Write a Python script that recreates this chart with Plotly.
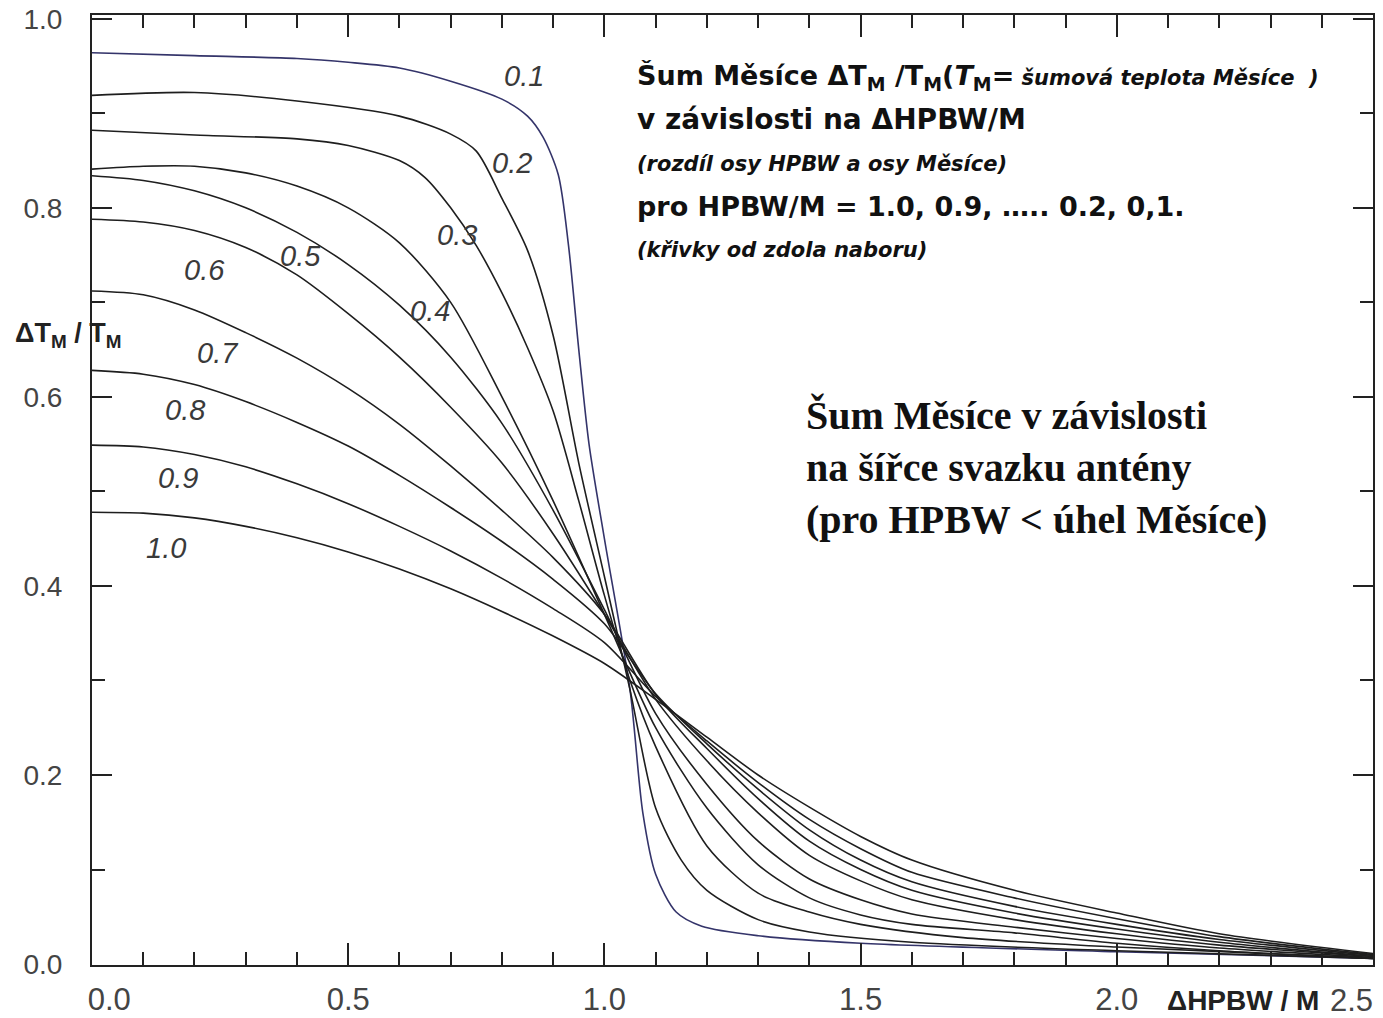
import plotly.graph_objects as go

# ---------------- data ----------------
hpbw_labels = ["0.1", "0.2", "0.3", "0.4", "0.5", "0.6", "0.7", "0.8", "0.9", "1.0"]

x_01 = [0, 0.2, 0.4, 0.5, 0.6, 0.7, 0.8, 0.85, 0.88, 0.91, 0.93, 0.95, 0.97, 1.0, 1.05, 1.075, 1.1, 1.14, 1.19, 1.3, 1.5, 2.0, 2.5]
y_01 = [.964, .961, .958, .954, .948, .934, .915, .897, .875, .835, .76, .65, .55, .45, .29, .16, .095, .055, .04, .03, .022, .013, .006]

x_02 = [0, 0.2, 0.4, 0.6, 0.7, 0.75, 0.8, 0.85, 0.9, 0.95, 1.0, 1.05, 1.1, 1.15, 1.2, 1.3, 1.4, 1.6, 2.0, 2.5]
y_02 = [.919, .922, .913, .897, .878, .86, .81, .755, .665, .53, .41, .29, .165, .11, .078, .047, .034, .023, .014, .006]

x_03 = [0, .2, .4, .5, .6, .65, .7, .75, .8, .85, .9, .95, 1.0, 1.05, 1.1, 1.2, 1.3, 1.4, 1.5, 1.7, 2.0, 2.5]
y_03 = [.882, .877, .873, .866, .85, .832, .80, .76, .71, .652, .585, .49, .39, .30, .23, .125, .075, .055, .042, .028, .018, .006]

x_grid = [0, .1, .2, .3, .4, .5, .6, .7, .8, .9, 1.0, 1.1, 1.2, 1.3, 1.4, 1.5, 1.6, 1.8, 2.0, 2.2, 2.5]
y_04 = [.841, .844, .844, .837, .823, .80, .763, .70, .60, .49, .37, .25, .165, .105, .07, .052, .042, .033, .022, .014, .006]
y_05 = [.834, .829, .818, .80, .774, .74, .697, .642, .572, .48, .375, .265, .19, .13, .09, .068, .053, .039, .027, .017, .007]
y_06 = [.788, .785, .776, .758, .729, .688, .642, .589, .53, .455, .37, .28, .215, .16, .115, .088, .068, .047, .032, .02, .008]
y_07 = [.712, .708, .692, .668, .641, .609, .571, .527, .48, .43, .37, .285, .228, .175, .13, .1, .078, .054, .037, .023, .008]
y_08 = [.628, .624, .613, .595, .573, .548, .517, .483, .447, .407, .36, .286, .233, .185, .142, .11, .087, .061, .042, .026, .009]
y_09 = [.549, .547, .539, .526, .508, .487, .463, .437, .408, .376, .34, .283, .236, .192, .153, .122, .097, .07, .048, .029, .01]
y_10 = [.478, .477, .472, .463, .451, .436, .418, .397, .373, .347, .318, .28, .24, .20, .166, .135, .11, .078, .054, .032, .011]

curves = [
    (x_01, y_01), (x_02, y_02), (x_03, y_03),
    (x_grid, y_04), (x_grid, y_05), (x_grid, y_06), (x_grid, y_07),
    (x_grid, y_08), (x_grid, y_09), (x_grid, y_10),
]

x_tick_vals = [0, 0.5, 1.0, 1.5, 2.0]
x_tick_text = ["\u00a0\u00a0\u00a0\u00a00.0", "0.5", "1.0", "1.5", "2.0"]
x_last_tick = [2.5]
x_last_text = ["2.5"]
y_tick_vals = [0.0, 0.2, 0.4, 0.6, 0.8, 1.0]
y_tick_text = ["0.0", "0.2", "0.4", "0.6", "0.8", "1.0"]

# curve label positions (data coords)
label_pos = {
    "0.1": (0.844, 0.94), "0.2": (0.819, 0.847), "0.3": (0.712, 0.771),
    "0.4": (0.659, 0.691), "0.5": (0.406, 0.749), "0.6": (0.22, 0.734),
    "0.7": (0.246, 0.646), "0.8": (0.181, 0.586), "0.9": (0.168, 0.514),
    "1.0": (0.144, 0.44),
}

# ---------------- figure ----------------
fig = go.Figure()
for i, (xs, ys) in enumerate(curves):
    fig.add_trace(go.Scatter(
        x=xs, y=ys, mode="lines",
        line=dict(color="#34346a" if i == 0 else "#1e1e1e", width=1.6,
                  shape="spline", smoothing=0.8),
        name=hpbw_labels[i], showlegend=False, hoverinfo="skip",
    ))
# empty helper trace so the second x axis (carrying the "2.5" label) is drawn
fig.add_trace(go.Scatter(x=[], y=[], xaxis="x2", yaxis="y", showlegend=False, hoverinfo="skip"))

ann = []
for lab in hpbw_labels:
    lx, ly = label_pos[lab]
    ann.append(dict(x=lx, y=ly, xref="x", yref="y", text="<i>%s</i>" % lab,
                    showarrow=False, font=dict(family="Liberation Sans, Arial", size=29, color="#3a3a3a")))

sans = "DejaVu Sans, Verdana, sans-serif"
top_lines = [
    ("<b>Šum Měsíce ΔT<sub>M</sub> /T<sub>M</sub>(<i>T</i><sub>M</sub>=</b>"
     "<span style='font-size:21px'><b><i> šumová teplota Měsíce  )</i></b></span>", 0.9345, 27),
    ("<b>v závislosti na ΔHPBW/M</b>", 0.8895, 28),
    ("<b><i>(rozdíl osy HPBW a osy Měsíce)</i></b>", 0.8435, 21),
    ("<b>pro HPBW/M = 1.0, 0.9, ….. 0.2, 0,1.</b>", 0.798, 27),
    ("<b><i>(křivky od zdola naboru)</i></b>", 0.7525, 21),
]
for txt, yy, fs in top_lines:
    ann.append(dict(x=0.424, y=yy, xref="paper", yref="paper", xanchor="left", yanchor="middle",
                    text=txt, showarrow=False, font=dict(family=sans, size=fs, color="#111")))

serif = "Liberation Serif, Times New Roman, serif"
for txt, yy in [("<b>Šum Měsíce v závislosti</b>", 0.578),
                ("<b>na šířce svazku antény</b>", 0.524),
                ("<b>(pro HPBW &lt; úhel Měsíce)</b>", 0.469)]:
    ann.append(dict(x=0.556, y=yy, xref="paper", yref="paper", xanchor="left", yanchor="middle",
                    text=txt, showarrow=False, font=dict(family=serif, size=40, color="#111")))

# axis titles
ann.append(dict(x=-0.062, y=0.663, xref="paper", yref="paper", xanchor="left", yanchor="middle",
                text="<b>ΔT<sub>M</sub> / T<sub>M</sub></b>", showarrow=False,
                font=dict(family="Liberation Sans Narrow, Liberation Sans, Arial", size=27, color="#222")))
ann.append(dict(x=0.8376, y=-0.037, xref="paper", yref="paper", xanchor="left", yanchor="middle",
                text="<b>ΔHPBW / M</b>", showarrow=False,
                font=dict(family="Liberation Sans Narrow, Liberation Sans, Arial", size=28, color="#222")))

axis_common = dict(showgrid=False, zeroline=False, showline=True, linecolor="#222", linewidth=2,
                   mirror="ticks", ticks="inside", tickcolor="#222", tickwidth=2, automargin=False)
tick_font_x = dict(family="Liberation Sans, Arial", size=31, color="#444")

fig.update_layout(
    width=1383, height=1018,
    margin=dict(l=92, r=10, t=15, b=53),
    paper_bgcolor="white", plot_bgcolor="white",
    annotations=ann,
    xaxis=dict(range=[0, 2.5], tickmode="array", tickvals=x_tick_vals, ticktext=x_tick_text,
               ticklen=22, tickfont=tick_font_x, ticklabelstandoff=6,
               minor=dict(ticks="inside", dtick=0.1, tick0=0, ticklen=13, tickcolor="#222", tickwidth=2),
               **axis_common),
    xaxis2=dict(range=[0, 2.5], overlaying="x", anchor="y", side="bottom",
                tickmode="array", tickvals=x_last_tick, ticktext=x_last_text,
                ticks="", showline=False, showgrid=False, zeroline=False, automargin=False,
                ticklabelposition="outside left", tickfont=tick_font_x, ticklabelstandoff=14),
    yaxis=dict(range=[-0.001, 1.004], tickmode="array", tickvals=y_tick_vals, ticktext=y_tick_text,
               ticklen=20, tickfont=dict(family="Liberation Sans, Arial", size=28, color="#444"),
               ticklabelstandoff=22,
               minor=dict(ticks="inside", dtick=0.1, tick0=0, ticklen=13, tickcolor="#222", tickwidth=2),
               **axis_common),
)

fig.write_html("out.html")
